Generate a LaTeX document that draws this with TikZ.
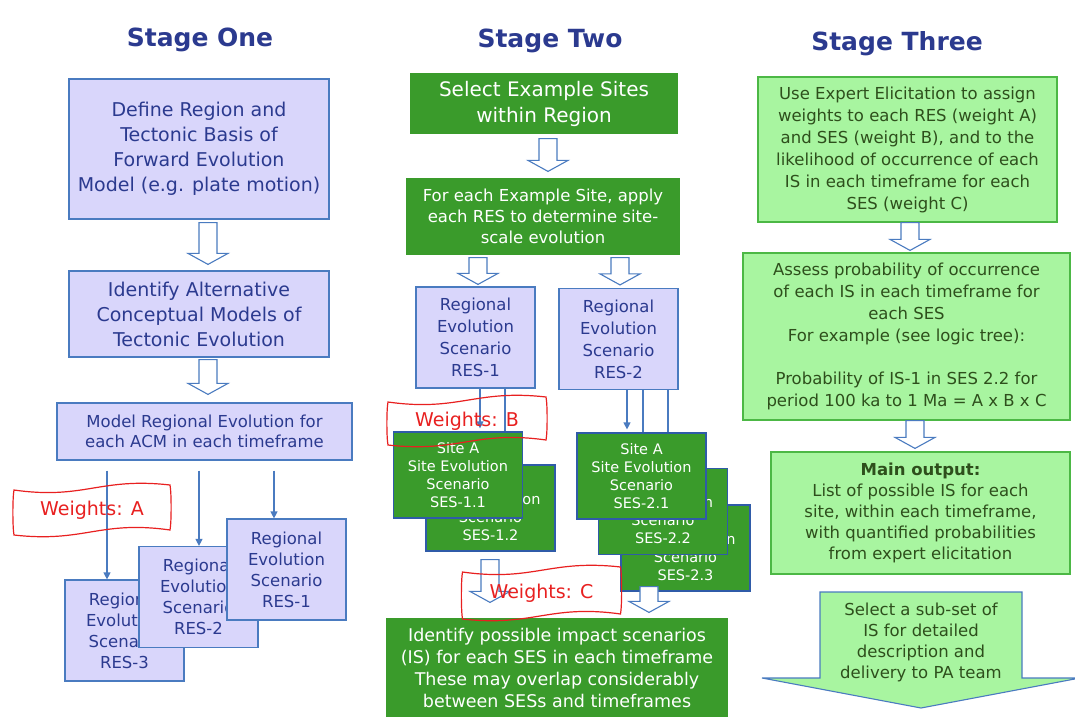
\documentclass[tikz,border=0pt]{standalone}
\usepackage{fontspec}
\setmainfont{DejaVu Sans}
\usetikzlibrary{arrows.meta,calc}
\definecolor{lav}{HTML}{D9D6FB}
\definecolor{bblue}{HTML}{4A7BC0}
\definecolor{tblue}{HTML}{2B3A8F}
\definecolor{dgreen}{HTML}{3A9B2B}
\definecolor{lgreen}{HTML}{A8F5A0}
\definecolor{lgborder}{HTML}{4CB845}
\definecolor{tgreen}{HTML}{2E4F1C}
\definecolor{wred}{HTML}{E82020}
\definecolor{sesborder}{HTML}{2F5BA8}
\newcommand\fs[2]{\fontsize{#1}{#2}\selectfont}
% hollow block arrow: #1 = x, #2 = start coordinate, #3 = tip coordinate
\newcommand\harrow[3]{\path[harr] let \p1=#2, \p2=#3 in
  (#1-9,\y1) -- (#1+9,\y1) -- (#1+9,\y2+11) -- (#1+20,\y2+11) -- (#1,\y2)
  -- (#1-20,\y2+11) -- (#1-9,\y2+11) -- cycle;}
% wavy banner outline round a node: #1 = node, #2 = half width, #3 = half height
\newcommand\wave[3]{\draw[wavel] ($#1+(-#2,-#3+5)$)
  .. controls ($#1+(-#2*0.1,-#3+15)$) and ($#1+(#2*0.1,-#3-8)$) .. ($#1+(#2,-#3)$)
  .. controls ($#1+(#2+1.5,-#3+0.3*#3)$) and ($#1+(#2+1.5,#3-5-0.3*#3)$) .. ($#1+(#2,#3-5)$)
  .. controls ($#1+(#2*0.1,#3-15)$) and ($#1+(-#2*0.1,#3+8)$) .. ($#1+(-#2,#3)$)
  .. controls ($#1+(-#2-1.5,#3-0.3*#3)$) and ($#1+(-#2-1.5,-#3+5+0.3*#3)$) .. cycle;}
\begin{document}
\begin{tikzpicture}[x=1pt,y=-1pt,
  box/.style={align=center, inner sep=0pt, line width=1.2pt},
  lavbox/.style={box, draw=bblue, fill=lav, text=tblue},
  resbox/.style={lavbox, minimum width=119pt, minimum height=101pt, font=\fs{16.5}{21}},
  resboxb/.style={lavbox, minimum width=119pt, minimum height=101pt, font=\fs{16.5}{22}},
  dgbox/.style={box, fill=dgreen, text=white},
  sesbox/.style={box, draw=sesborder, fill=dgreen, text=white, minimum width=129pt, minimum height=86pt, font=\fs{14.5}{18}},
  lgbox/.style={box, draw=lgborder, fill=lgreen, text=tgreen},
  title/.style={text=tblue, font=\fs{25}{30}\bfseries},
  thinarr/.style={draw=bblue, line width=1.2pt, -{Triangle[length=7pt,width=7pt]}},
  thinline/.style={draw=bblue, line width=1.2pt},
  harr/.style={draw=bblue, fill=white, line width=1.1pt, line join=miter},
  wavel/.style={draw=wred, line width=1.2pt},
  wtext/.style={text=wred, font=\fs{19}{22}},
]
\useasboundingbox (0,0) rectangle (1075,720);
\fill[white] (0,0) rectangle (1075,720);

% titles
\node[title] (T1) at (200,40) {Stage One};
\node[title] (T2) at (550,41) {Stage Two};
\node[title] (T3) at (897,44) {Stage Three};

% ---------- Stage One ----------
\node[lavbox, minimum width=260pt, minimum height=140pt, font=\fs{19}{25}] (s1a) at (199,149)
  {Define Region and\\Tectonic Basis of\\Forward Evolution\\Model (e.g. plate motion)};
\node[lavbox, minimum width=260pt, minimum height=86pt, font=\fs{19}{25}] (s1b) at (199,314)
  {Identify Alternative\\Conceptual Models of\\Tectonic Evolution};
\node[lavbox, minimum width=295pt, minimum height=57pt, font=\fs{16.5}{20}] (s1c) at (204.5,431.5)
  {Model Regional Evolution for\\each ACM in each timeframe};
\harrow{208}{([yshift=-3pt]s1a.south)}{([yshift=6pt]s1b.north)}
\harrow{208}{([yshift=-2pt]s1b.south)}{([yshift=8pt]s1c.north)}

\node[resbox] (r3) at (124.5,630.5) {Regional\\Evolution\\Scenario\\RES-3};
\node[resbox] (r2) at (198.5,597) {Regional\\Evolution\\Scenario\\RES-2};
\node[resbox] (r1) at (286.5,569.5) {Regional\\Evolution\\Scenario\\RES-1};

\coordinate (s1cb) at ([yshift=-10pt]s1c.south);
\draw[thinarr] (s1cb -| 107,0) -- (r3.north -| 107,0);
\draw[thinarr] (s1cb -| 199,0) -- (r2.north -| 199,0);
\draw[thinarr] (s1cb -| 274,0) -- (r1.north -| 274,0);

\node[wtext] (wA) at (92,510) {Weights: A};
\wave{(wA)}{78}{25}

% ---------- Stage Two ----------
\node[dgbox, minimum width=268pt, minimum height=61pt, font=\fs{20}{26}] (s2a) at (544,103.5)
  {Select Example Sites\\within Region};
\node[dgbox, minimum width=274pt, minimum height=77pt, font=\fs{16.5}{21}] (s2b) at (543,216.5)
  {For each Example Site, apply\\each RES to determine site-\\scale evolution};
\harrow{548}{([yshift=-4pt]s2a.south)}{([yshift=6pt]s2b.north)}

\node[resboxb] (t1) at (475.5,337.5) {Regional\\Evolution\\Scenario\\RES-1};
\node[resboxb] (t2) at (618.5,339) {Regional\\Evolution\\Scenario\\RES-2};
\harrow{478}{([yshift=-2pt]s2b.south)}{([yshift=2pt]t1.north)}
\harrow{620}{([yshift=-2pt]s2b.south)}{([yshift=3pt]t2.north)}

\node[sesbox] (u12) at (490.5,508) {Site A\\Site Evolution\\Scenario\\SES-1.2};
\node[sesbox] (u11) at (458,475) {Site A\\Site Evolution\\Scenario\\SES-1.1};
\node[sesbox] (v23) at (685.5,548) {Site A\\Site Evolution\\Scenario\\SES-2.3};
\node[sesbox] (v22) at (663,511.5) {Site A\\Site Evolution\\Scenario\\SES-2.2};
\node[sesbox] (v21) at (641.5,476) {Site A\\Site Evolution\\Scenario\\SES-2.1};

\coordinate (t1b) at (t1.south);
\coordinate (t2b) at (t2.south);
\draw[thinarr] (t1b -| 480,0) -- ([yshift=3pt]u11.north -| 480,0);
\draw[thinline] (t1b -| 505,0) -- (u11.north -| 505,0);
\draw[thinarr] (t2b -| 627,0) -- ([yshift=3pt]v21.north -| 627,0);
\draw[thinline] (t2b -| 643,0) -- (v21.north -| 643,0);
\draw[thinline] (t2b -| 668,0) -- (v21.north -| 668,0);

\node[wtext] (wB) at (467,421) {Weights: B};
\wave{(wB)}{79}{24}

\node[dgbox, minimum width=342pt, minimum height=99pt, font=\fs{17.5}{22}] (w) at (557,667.5)
  {Identify possible impact scenarios\\(IS) for each SES in each timeframe\\These may overlap considerably\\between SESs and timeframes};
\harrow{490}{([yshift=-8pt]u12.south)}{([yshift=15pt]w.north)}
\harrow{649}{([yshift=5pt]v23.south)}{([yshift=5pt]w.north)}

\node[wtext] (wC) at (541.5,593) {Weights: C};
\wave{(wC)}{79}{26}

% ---------- Stage Three ----------
\node[lgbox, minimum width=299pt, minimum height=145pt, font=\fs{16.5}{22}] (p1) at (907.5,149.5)
  {Use Expert Elicitation to assign\\weights to each RES (weight A)\\and SES (weight B), and to the\\likelihood of occurrence of each\\IS in each timeframe for each\\SES (weight C)};
\node[lgbox, minimum width=327pt, minimum height=167pt, font=\fs{16.5}{21.7}] (p2) at (906.5,336.5)
  {Assess probability of occurrence\\of each IS in each timeframe for\\each SES\\For example (see logic tree):\\[21.7pt]Probability of IS-1 in SES 2.2 for\\period 100 ka to 1 Ma = A x B x C};
\node[lgbox, minimum width=299pt, minimum height=122pt, font=\fs{16.5}{21}] (p3) at (920.5,513)
  {\textbf{Main output:}\\List of possible IS for each\\site, within each timeframe,\\with quantified probabilities\\from expert elicitation};
\harrow{910}{(p1.south)}{([yshift=2pt]p2.north)}
\harrow{915}{(p2.south)}{([yshift=3pt]p3.north)}

\draw[draw=bblue, fill=lgreen, line width=1.1pt, line join=miter]
  (820,592) -- (1022,592) -- (1022,678) -- (1080,678) -- (921,708)
  -- (762,678) -- (820,678) -- cycle;
\node[align=center, inner sep=0pt, text=tgreen, font=\fs{16.5}{21}] (sel) at (921,642)
  {Select a sub-set of\\IS for detailed\\description and\\delivery to PA team};
\end{tikzpicture}
\end{document}
